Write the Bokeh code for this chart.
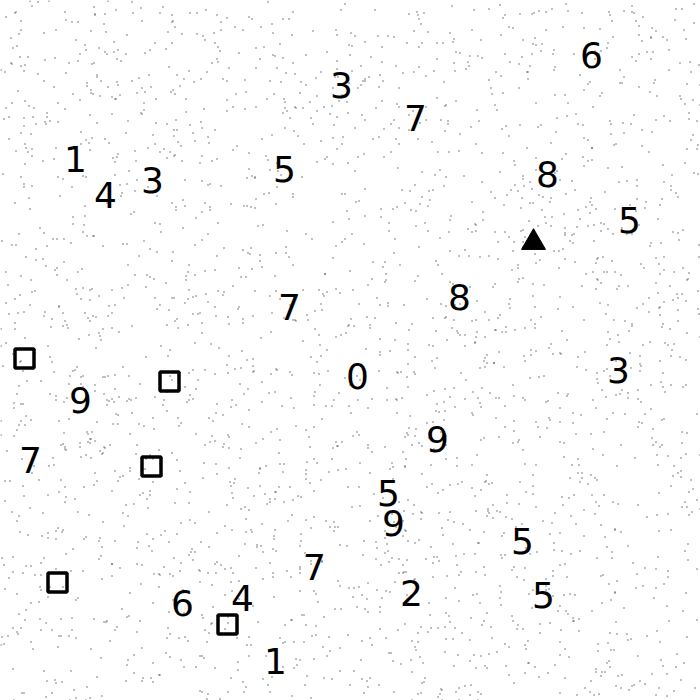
import numpy as np
from bokeh.plotting import figure
from bokeh.models import Range1d, ColumnDataSource
from bokeh.core.properties import value
from bokeh.embed import file_html
from bokeh.resources import INLINE

# Digits (label, x, y of digit centre) in pixel-like coordinates
digit_labels = ["6", "3", "7", "1", "4", "3", "5", "8", "5", "7", "8", "0", "3",
                "9", "7", "9", "5", "9", "5", "7", "2", "5", "6", "4", "1"]
digit_x = [591, 341, 415, 75, 105, 152, 284, 547, 629, 289, 459, 357, 618,
           80, 30, 437, 388, 393, 522, 314, 411, 543, 182, 242, 275]
digit_y = [54, 84, 117, 158, 194, 179, 168, 173, 219, 306, 296, 375, 369,
           399, 459, 438, 492, 522, 540, 566, 592, 594, 602, 597, 660]

# Hollow squares
square_x = [24, 169, 151, 57, 227]
square_y = [358, 381, 466, 582, 624]

# Filled triangle
triangle_x = [533]
triangle_y = [242]

W, H = 700, 700
p = figure(width=W, height=H, output_backend="svg", toolbar_location=None,
           x_range=Range1d(0, W), y_range=Range1d(H, 0), min_border=0,
           x_axis_location=None, y_axis_location=None)
p.grid.visible = False
p.outline_line_color = None
p.background_fill_color = "white"
p.border_fill_color = "white"

# background speckle texture (decorative, not data)
texture = np.random.default_rng(11)
n = 2600
tx = texture.integers(0, W, n)
ty = texture.integers(0, H, n)
p.quad(left=tx, right=tx + 1, top=ty, bottom=ty + 1, fill_color="black",
       line_color=None)

src = ColumnDataSource(dict(x=digit_x, y=digit_y, t=digit_labels))
p.text(x="x", y="y", text="t", source=src, text_align="center",
       text_baseline="middle", text_font=value("DejaVu Sans"),
       text_font_size="36px", text_color="black")

p.scatter(square_x, square_y, marker="square", size=19, fill_color=None,
          line_color="black", line_width=3.5)
p.scatter(triangle_x, triangle_y, marker="triangle", size=24, fill_color="black",
          line_color="black", line_width=1)

open("out.html", "w").write(file_html(p, INLINE))
